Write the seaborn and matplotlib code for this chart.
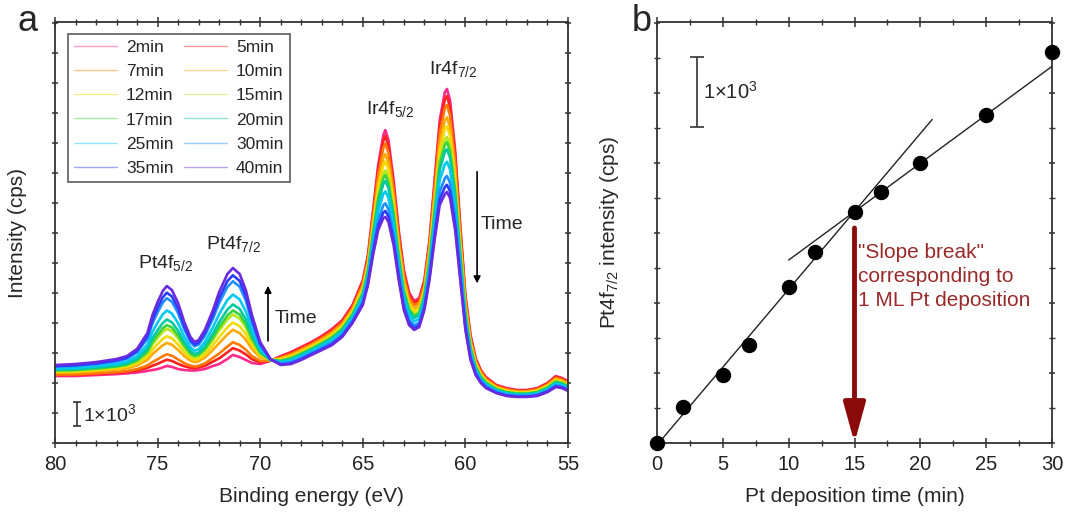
import numpy as np
import pandas as pd
import matplotlib
matplotlib.use("Agg")
import matplotlib.pyplot as plt
from matplotlib.ticker import MultipleLocator
import seaborn as sns

sns.set_theme(style="white")
plt.rcParams["font.family"] = ["Liberation Sans", "DejaVu Sans"]
plt.rcParams["mathtext.fontset"] = "custom"
plt.rcParams["mathtext.rm"] = "Liberation Sans"
plt.rcParams["mathtext.it"] = "Liberation Sans:italic"

# ---------------- panel a: XPS spectra ----------------
deposition_min = [2, 5, 7, 10, 12, 15, 17, 20, 25, 30, 35, 40]
line_colors = ["#ff2a8a", "#ff2020", "#ff7a00", "#ffaa00", "#f0dc00", "#b5e61d",
               "#3cd23c", "#00c8a0", "#00c8f0", "#1e90ff", "#2c3cff", "#6a2be0"]

binding_energy = [80, 79, 78, 77, 76.5, 76, 75.5, 75.25, 75, 74.75,
                  74.55, 74.3, 74, 73.7, 73.4, 73.2, 73, 72.7, 72.3, 72,
                  71.6, 71.33, 71, 70.7, 70.4, 70, 69.5, 69, 68.5, 68,
                  67.5, 67, 66.5, 66, 65.5, 65, 64.75, 64.5, 64.25, 64,
                  63.9, 63.75, 63.5, 63.25, 63, 62.75, 62.5, 62.25, 62, 61.75,
                  61.5, 61.25, 61, 60.9, 60.75, 60.5, 60.25, 60, 59.75, 59.5,
                  59.25, 59, 58.5, 58, 57.5, 57, 56.5, 56, 55.6, 55.3,
                  55]

# earliest spectrum (mostly Ir 4f substrate signal), cps
spectrum_2min = [2790, 2790, 2830, 2870, 2900, 2940, 3000, 3040, 3080, 3150,
                 3210, 3170, 3080, 3040, 3020, 3020, 3040, 3080, 3210, 3290,
                 3500, 3670, 3580, 3460, 3330, 3290, 3420, 3620, 3790, 4000,
                 4210, 4460, 4750, 5120, 5750, 6790, 7830, 9710, 11580, 12830,
                 13040, 12620, 10960, 8870, 7210, 6290, 5920, 6040, 6790, 8460,
                 10960, 13460, 14620, 14750, 14290, 12210, 9080, 6170, 4500, 3540,
                 3040, 2750, 2420, 2290, 2210, 2210, 2290, 2500, 2790, 2710,
                 2580]

# latest spectrum (Pt-covered surface), cps
spectrum_40min = [3250, 3290, 3370, 3500, 3620, 3920, 4580, 5330, 5870, 6330,
                  6540, 6370, 5830, 5040, 4420, 4210, 4290, 4710, 5540, 6290,
                  7040, 7290, 7040, 6370, 5330, 4210, 3500, 3250, 3290, 3460,
                  3670, 3870, 4080, 4420, 5000, 5750, 6580, 7830, 8870, 9370,
                  9420, 9210, 8250, 6790, 5540, 4920, 4710, 4830, 5540, 6790,
                  8460, 9920, 10370, 10460, 10210, 8870, 6790, 4710, 3460, 2830,
                  2500, 2290, 2080, 1960, 1920, 1920, 1960, 2120, 2330, 2290,
                  2170]

# relative Ir 4f attenuation and Pt 4f growth for each deposition time
ir_attenuation = [1.00, 0.98, 0.955, 0.92, 0.895, 0.865, 0.85, 0.83, 0.795, 0.755, 0.73, 0.71]
pt_fraction = [0.0, 0.076, 0.148, 0.286, 0.37, 0.465, 0.513, 0.582, 0.697, 0.847, 0.92, 1.0]

# ---------------- panel b: Pt 4f7/2 intensity ----------------
pt_time_min = [0, 2, 5, 7, 10, 12, 15, 17, 20, 25, 30]
pt_intensity_cps = [0, 514, 971, 1400, 2229, 2729, 3300, 3586, 4000, 4686, 5586]

# build long-form table of spectra
sub = np.array(spectrum_2min, float)
pt_component = np.array(spectrum_40min, float) - ir_attenuation[-1] * sub
rows = []
for t, a, b in zip(deposition_min, ir_attenuation, pt_fraction):
    inten = a * sub + b * pt_component
    rows.append(pd.DataFrame({"energy": binding_energy, "intensity": inten,
                              "time": f"{t}min"}))
spectra = pd.concat(rows, ignore_index=True)
labels = [f"{t}min" for t in deposition_min]

fig = plt.figure(figsize=(10.65, 5.13), dpi=100)
ax_a = fig.add_axes([55 / 1065, 1 - 443 / 513, 513 / 1065, 421 / 513])
ax_b = fig.add_axes([657 / 1065, 1 - 443 / 513, 395 / 1065, 421 / 513])

sns.lineplot(data=spectra, x="energy", y="intensity", hue="time", hue_order=labels,
             palette=line_colors, linewidth=1.9, sort=False, estimator=None,
             ax=ax_a, legend=True)

ax_a.set_xlim(80, 55)
ax_a.set_ylim(0, 17540)
ax_a.xaxis.set_major_locator(MultipleLocator(5))
ax_a.xaxis.set_minor_locator(MultipleLocator(1))
ax_a.yaxis.set_major_locator(MultipleLocator(1250))
ax_a.set_yticklabels([])
ax_a.set_xlabel("Binding energy (eV)", fontsize=15)
ax_a.set_ylabel("Intensity (cps)", fontsize=15)
ax_a.xaxis.set_label_coords(0.5, -0.105)
ax_a.yaxis.set_label_coords(-0.055, 0.5)

# legend laid out row by row in two columns
handles, _ = ax_a.get_legend_handles_labels()
order = list(range(0, 12, 2)) + list(range(1, 12, 2))
leg = ax_a.legend([handles[i] for i in order], [labels[i] for i in order],
                  ncol=2, loc="upper left", bbox_to_anchor=(0.025, 0.972),
                  borderaxespad=0, fontsize=12.5, frameon=True, fancybox=False,
                  handlelength=2.5, handletextpad=0.5, columnspacing=0.6,
                  labelspacing=0.52, borderpad=0.35)
leg.get_frame().set_edgecolor("#333333")
leg.get_frame().set_linewidth(1.2)
for h in leg.get_lines():
    h.set_linewidth(1.0)
    h.set_alpha(0.45)

# peak labels
ax_a.text(74.6, 7500, "Pt4f$_{5/2}$", fontsize=14, ha="center", va="center")
ax_a.text(71.3, 8300, "Pt4f$_{7/2}$", fontsize=14, ha="center", va="center")
ax_a.text(63.65, 13900, "Ir4f$_{5/2}$", fontsize=14, ha="center", va="center")
ax_a.text(60.6, 15600, "Ir4f$_{7/2}$", fontsize=14, ha="center", va="center")

# time arrows
ax_a.annotate("", xy=(69.62, 6550), xytext=(69.62, 4250),
              arrowprops=dict(arrowstyle="-|>", color="black", lw=1.2,
                              mutation_scale=10, shrinkA=0, shrinkB=0))
ax_a.text(69.3, 5200, "Time", fontsize=14, ha="left", va="center")
ax_a.annotate("", xy=(59.43, 6650), xytext=(59.43, 11300),
              arrowprops=dict(arrowstyle="-|>", color="black", lw=1.2,
                              mutation_scale=10, shrinkA=0, shrinkB=0))
ax_a.text(59.25, 9100, "Time", fontsize=14, ha="left", va="center")

# intensity scale bar
ax_a.errorbar([78.93], [1200], yerr=[[500], [500]], color="#333333", capsize=3,
              elinewidth=1.2, capthick=1.2)
ax_a.text(78.65, 1200, "1×10$^3$", fontsize=14, ha="left", va="center")

# ---------------- panel b ----------------
t_arr = np.array(pt_time_min, float)
v_arr = np.array(pt_intensity_cps, float)
early = t_arr <= 15
late = (t_arr >= 15) & (t_arr <= 25)
k1, c1 = np.polyfit(t_arr[early], v_arr[early], 1)
k2, c2 = np.polyfit(t_arr[late], v_arr[late], 1)
fit1_t = np.array([0, 20.9])
fit2_t = np.array([10, 30])
ax_b.plot(fit1_t, k1 * fit1_t + c1, color="#222222", lw=1.0, zorder=2)
ax_b.plot(fit2_t, k2 * fit2_t + c2, color="#222222", lw=1.0, zorder=2)

sns.scatterplot(x=pt_time_min, y=pt_intensity_cps, ax=ax_b, color="black",
                s=105, edgecolor="black", zorder=5, clip_on=False)

ax_b.set_xlim(0, 30)
ax_b.set_ylim(0, 6014)
ax_b.xaxis.set_major_locator(MultipleLocator(5))
ax_b.xaxis.set_minor_locator(MultipleLocator(2.5))
ax_b.yaxis.set_major_locator(MultipleLocator(1000))
ax_b.yaxis.set_minor_locator(MultipleLocator(500))
ax_b.set_yticklabels([])
ax_b.set_xlabel("Pt deposition time (min)", fontsize=15)
ax_b.set_ylabel("Pt4f$_{7/2}$ intensity (cps)", fontsize=15)
ax_b.xaxis.set_label_coords(0.5, -0.105)
ax_b.yaxis.set_label_coords(-0.09, 0.5)

# slope-break marker
ax_b.annotate("", xy=(15, 0), xytext=(15, 3071),
              arrowprops=dict(arrowstyle="-|>,head_length=0.8,head_width=0.22",
                              color="#8b0a0a", lw=3.5, mutation_scale=30,
                              shrinkA=0, shrinkB=0), zorder=4)
ax_b.text(15.3, 2860, "\"Slope break\"\ncorresponding to\n1 ML Pt deposition",
          fontsize=15, color="#9a2a2a", ha="left", va="top", linespacing=1.35)

ax_b.errorbar([3.0], [5014], yerr=[[500], [500]], color="#333333", capsize=5,
              elinewidth=1.2, capthick=1.2)
ax_b.text(3.5, 5014, "1×10$^3$", fontsize=14.5, ha="left", va="center")

for ax in (ax_a, ax_b):
    for sp in ax.spines.values():
        sp.set_color("#333333")
        sp.set_linewidth(1.3)
    ax.tick_params(axis="both", which="both", direction="inout", top=True,
                   right=True, bottom=True, left=True, colors="#333333",
                   labelcolor="#222222", labelsize=14.5, pad=5)
    ax.tick_params(which="major", length=7, width=1.1)
    ax.tick_params(which="minor", length=4, width=1.0)
    ax.tick_params(axis="y", which="both", length=4)

ax_a.yaxis.set_minor_locator(MultipleLocator(1250))

fig.text(0.016, 0.958, "a", fontsize=26, ha="left", va="center")
fig.text(0.593, 0.958, "b", fontsize=26, ha="left", va="center")

fig.savefig("out.png", dpi=100)
